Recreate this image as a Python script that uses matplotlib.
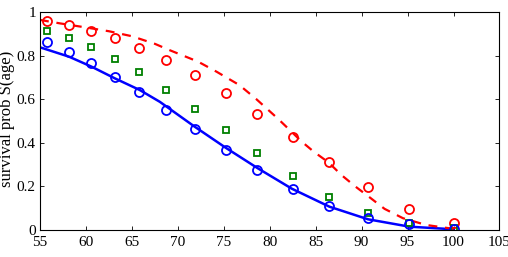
import numpy as np
import matplotlib.pyplot as plt

plt.rcParams['font.family'] = ['Liberation Serif', 'DejaVu Serif']

# observed ages (marker positions)
ages = [55.75, 58.15, 60.55, 63.15, 65.8, 68.75, 71.85, 75.2, 78.65, 82.5,
        86.45, 90.7, 95.2, 100.0]
red_obs = [0.960, 0.942, 0.914, 0.880, 0.837, 0.780, 0.711, 0.630, 0.532,
           0.424, 0.309, 0.194, 0.093, 0.028]
green_obs = [0.915, 0.883, 0.839, 0.785, 0.724, 0.642, 0.553, 0.458, 0.354,
             0.248, 0.151, 0.077, 0.028, 0.005]
blue_obs = [0.862, 0.819, 0.768, 0.704, 0.632, 0.550, 0.461, 0.366, 0.274,
            0.185, 0.110, 0.052, 0.024, 0.003]

# fitted curves
blue_fit_age = [55, 58.15, 60.6, 63.15, 65.87, 68.04, 71.85, 75.3, 78.7,
                82.4, 86.5, 90.7, 95.2, 100]
blue_fit = [0.839, 0.796, 0.750, 0.696, 0.642, 0.588, 0.473, 0.374, 0.282,
            0.188, 0.105, 0.047, 0.013, 0.001]
red_fit_age = [55, 57.2, 59.9, 62.5, 65, 67.5, 69.1, 72.2, 74.2, 76.7, 78.55,
               80.9, 83.5, 84.8, 86.4, 87.8, 89.35, 91, 92.5, 94.5, 97, 100]
red_fit = [0.965, 0.949, 0.931, 0.913, 0.89, 0.855, 0.826, 0.773, 0.727,
           0.665, 0.60, 0.51, 0.404, 0.358, 0.309, 0.251, 0.197, 0.144,
           0.095, 0.052, 0.021, 0.003]

green = (0, 0.5, 0)

fig = plt.figure(figsize=(5.08, 2.57), dpi=100)
ax = fig.add_axes([0.0787, 0.107, 0.9045, 0.845])

ax.plot(blue_fit_age, blue_fit, color='b', lw=1.8)
ax.plot(red_fit_age, red_fit, color='r', lw=1.6, linestyle=(0, (4, 3.5)))
ax.plot(ages, red_obs, 'o', color='r', mfc='none', mew=1.3, ms=6.5)
ax.plot(ages, green_obs, 's', color=green, mfc='none', mew=1.3, ms=5)
ax.plot(ages, blue_obs, 'o', color='b', mfc='none', mew=1.3, ms=6.5)

ax.set_xlim(55, 105)
ax.set_ylim(0, 1)
ax.set_xticks(np.arange(55, 106, 5))
ax.set_yticks([0, 0.2, 0.4, 0.6, 0.8, 1])
ax.set_yticklabels(['0', '0.2', '0.4', '0.6', '0.8', '1'])
ax.tick_params(direction='in', length=3, width=0.6, top=True, right=True,
               labelsize=11)
ax.tick_params(axis='x', pad=5)
ax.tick_params(axis='y', pad=3)
for s in ax.spines.values():
    s.set_linewidth(0.8)

ax.set_xlabel('age', fontsize=12, labelpad=3)
ax.set_ylabel('survival prob S(age)', fontsize=12)
ax.yaxis.set_label_coords(-0.054, 0.51)

fig.savefig('out.png', dpi=100)
